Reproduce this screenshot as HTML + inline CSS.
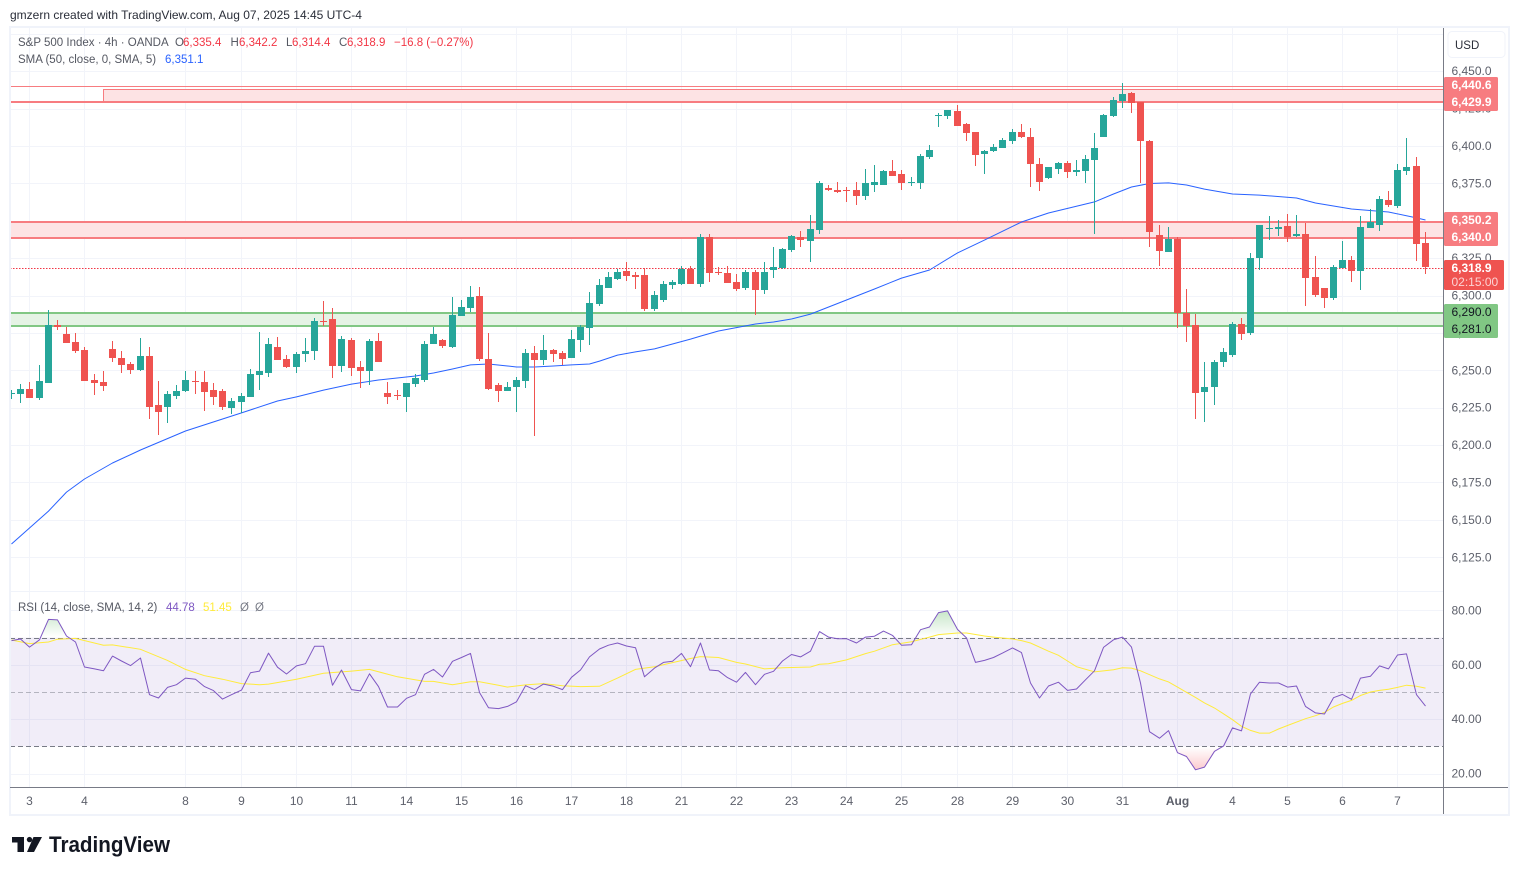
<!DOCTYPE html>
<html lang="en">
<head>
<meta charset="utf-8">
<title>S&amp;P 500 Index 4h chart</title>
<style>
html,body{margin:0;padding:0;background:#fff;width:1519px;height:875px;overflow:hidden}
svg{display:block;font-family:"Liberation Sans",Arial,sans-serif}
text{white-space:pre}
</style>
</head>
<body>
<svg id="chart" xmlns="http://www.w3.org/2000/svg" width="1519" height="875" viewBox="0 0 1519 875">
  <defs>
    <clipPath id="plot-clip"><rect x="11" y="28" width="1432" height="563"/></clipPath>
    <clipPath id="rsi-clip"><rect x="11" y="592" width="1432" height="195"/></clipPath>
    <clipPath id="ob-clip"><rect x="11" y="592" width="1432" height="45.4"/></clipPath>
    <clipPath id="os-clip"><rect x="11" y="746.8" width="1432" height="40"/></clipPath>
    <linearGradient id="ob-grad" gradientUnits="userSpaceOnUse" x1="0" y1="610" x2="0" y2="637">
      <stop offset="0" stop-color="#4caf50" stop-opacity="0.32"/>
      <stop offset="1" stop-color="#4caf50" stop-opacity="0"/>
    </linearGradient>
    <linearGradient id="os-grad" gradientUnits="userSpaceOnUse" x1="0" y1="773" x2="0" y2="747">
      <stop offset="0" stop-color="#f23645" stop-opacity="0.3"/>
      <stop offset="1" stop-color="#f23645" stop-opacity="0"/>
    </linearGradient>
  </defs>

  <text x="10" y="19" font-size="12" fill="#2a2e39">gmzern created with TradingView.com, Aug 07, 2025 14:45 UTC-4</text>

  <g id="grid-layer"></g>
  <g id="zone-layer"></g>
  <g id="sma-layer" clip-path="url(#plot-clip)"></g>
  <g id="candle-layer" clip-path="url(#plot-clip)" shape-rendering="crispEdges"></g>
  <g id="rsi-layer"></g>

  <g fill="none">
    <rect x="10" y="27" width="1499" height="788" stroke="#f0f3fa" stroke-width="2"/>
    <line x1="10" x2="1443" y1="591.5" y2="591.5" stroke="#f0f3fa" stroke-width="1"/>
    <line x1="1443.5" x2="1443.5" y1="28" y2="814" stroke="#787b86" stroke-width="1"/>
    <line x1="10" x2="1508" y1="787.5" y2="787.5" stroke="#787b86" stroke-width="1"/>
  </g>

  <g id="axis-layer" font-size="12" fill="#5d606b"></g>

  <g font-size="11.5">
    <text x="18" y="46" fill="#555862">S&amp;P 500 Index · 4h · OANDA</text>
    <text x="175" y="46" fill="#555862">O</text>
    <text x="183" y="46" fill="#f23645">6,335.4</text>
    <text x="230.5" y="46" fill="#555862">H</text>
    <text x="239" y="46" fill="#f23645">6,342.2</text>
    <text x="286" y="46" fill="#555862">L</text>
    <text x="292" y="46" fill="#f23645">6,314.4</text>
    <text x="339" y="46" fill="#555862">C</text>
    <text x="347" y="46" fill="#f23645">6,318.9</text>
    <text x="394" y="46" fill="#f23645">−16.8 (−0.27%)</text>
    <text x="18" y="63" fill="#555862">SMA (50, close, 0, SMA, 5)</text>
    <text x="165" y="63" fill="#2962ff">6,351.1</text>
    <text x="18" y="611" fill="#555862">RSI (14, close, SMA, 14, 2)</text>
    <text x="166" y="611" fill="#7e57c2">44.78</text>
    <text x="203" y="611" fill="#ffeb3b">51.45</text>
    <text x="240" y="611" fill="#787b86">Ø</text>
    <text x="255" y="611" fill="#787b86">Ø</text>
  </g>

  <g>
    <rect x="1448" y="31.5" width="57" height="26" rx="4" fill="#fff" stroke="#f0f3fa" stroke-width="1"/>
    <text x="1455" y="49" font-size="11.5" fill="#2a2e39">USD</text>
  </g>

  <g>
    <path d="M12 837H24V852H17.5V842.5H12Z" fill="#131722"/>
    <circle cx="29.5" cy="839.6" r="2.7" fill="#131722"/>
    <path d="M33.5 837H42L34 852H27Z" fill="#131722"/>
    <text x="49" y="852" font-size="22" font-weight="700" fill="#131722" textLength="121" lengthAdjust="spacingAndGlyphs">TradingView</text>
  </g>
</svg>

<script>
const opens = [
6234.0,6234.2,6237.5,6231.5,6241.5,6280.3,6274.3,6268.9,6263.6,6243.5,
6242.2,6264.3,6258.3,6254.2,6250.2,6259.6,6226.8,6225.5,6232.8,6236.2,
6242.9,6242.2,6236.8,6236.2,6224.8,6228.8,6232.2,6246.9,6248.2,6265.6,
6257.6,6252.2,6260.9,6262.9,6283.0,6284.3,6252.9,6270.3,6252.2,6249.5,
6269.6,6234.8,6233.7,6232.2,6240.8,6243.5,6267.6,6270.3,6265.6,6286.3,
6291.7,6299.7,6257.6,6240.2,6236.2,6238.8,6242.9,6261.6,6256.9,6263.6,
6261.6,6258.3,6270.3,6278.3,6294.3,6305.0,6311.0,6316.4,6313.7,6313.7,
6291.0,6297.0,6307.0,6307.7,6317.8,6307.7,6339.2,6315.7,6315.1,6309.0,
6305.0,6315.7,6303.7,6317.1,6318.4,6330.5,6339.2,6336.5,6343.8,6371.9,
6370.6,6370.6,6370.6,6366.6,6373.9,6373.9,6383.3,6381.3,6375.3,6375.3,
6392.6,6420.1,6420.1,6423.4,6414.7,6409.4,6394.7,6396.7,6398.7,6403.3,
6409.4,6406.0,6388.0,6378.6,6384.6,6388.6,6382.6,6383.3,6390.7,6406.0,
6420.1,6430.1,6435.4,6429.4,6403.3,6340.5,6329.1,6337.8,6288.3,6280.3,
6235.5,6238.8,6255.6,6260.2,6281.0,6274.9,6325.1,6344.5,6344.5,6346.5,
6339.8,6341.2,6312.4,6305.0,6298.3,6318.4,6323.8,6316.4,6345.2,6347.2,
6363.9,6359.9,6383.3,6386.6,6335.4];
const highs = [
6236.8,6240.8,6242.2,6253.6,6290.3,6283.7,6279.0,6274.9,6265.6,6247.5,
6249.5,6269.6,6262.9,6255.6,6271.6,6265.6,6242.9,6236.2,6240.2,6249.5,
6249.5,6249.5,6241.5,6237.5,6231.5,6234.8,6250.9,6275.6,6271.6,6272.3,
6260.2,6262.3,6271.6,6285.0,6296.4,6291.7,6272.9,6271.6,6256.2,6270.9,
6274.9,6242.2,6236.8,6241.5,6247.5,6269.6,6279.0,6270.9,6299.0,6297.0,
6306.4,6305.7,6274.9,6241.5,6242.2,6245.5,6264.3,6266.3,6273.6,6264.3,
6262.9,6277.0,6280.3,6302.4,6311.0,6315.7,6317.7,6322.4,6315.7,6318.4,
6303.0,6309.7,6310.4,6319.8,6319.8,6341.2,6341.2,6319.1,6319.8,6314.4,
6317.1,6317.1,6322.4,6332.5,6331.8,6340.5,6343.2,6353.9,6376.6,6373.9,
6375.9,6372.6,6375.9,6384.6,6387.3,6384.0,6390.7,6384.0,6379.3,6394.7,
6400.7,6422.1,6424.1,6427.4,6415.4,6409.4,6397.3,6401.3,6405.4,6411.4,
6414.7,6412.0,6392.0,6386.0,6389.3,6390.0,6390.7,6394.0,6408.7,6421.4,
6432.8,6442.1,6436.1,6429.4,6404.0,6347.2,6345.8,6339.2,6304.4,6287.6,
6255.6,6256.9,6264.9,6282.3,6285.0,6328.5,6347.2,6353.2,6350.5,6354.5,
6353.9,6348.5,6326.5,6305.0,6320.4,6336.5,6326.5,6353.2,6357.9,6366.6,
6369.9,6387.9,6405.4,6392.6,6342.2];
const lows = [
6230.8,6228.4,6231.5,6230.2,6241.5,6277.0,6268.3,6261.6,6242.9,6233.5,
6236.2,6255.6,6248.2,6247.5,6249.5,6217.5,6206.8,6214.8,6230.8,6235.5,
6234.2,6222.8,6226.8,6223.5,6220.8,6221.5,6232.2,6236.8,6245.5,6256.9,
6251.6,6248.2,6255.6,6256.9,6279.6,6244.9,6248.9,6246.2,6238.2,6240.2,
6255.6,6227.5,6230.2,6222.1,6238.8,6242.2,6267.6,6264.9,6264.9,6286.3,
6289.0,6256.2,6236.8,6228.8,6236.2,6222.1,6238.2,6206.1,6253.6,6255.6,
6253.6,6258.3,6262.3,6266.9,6293.0,6305.0,6310.4,6309.7,6304.4,6289.7,
6289.7,6295.7,6304.4,6307.0,6307.7,6305.7,6309.0,6313.7,6308.4,6303.0,
6303.7,6287.0,6301.0,6311.7,6317.8,6329.1,6332.5,6322.4,6341.2,6369.9,
6368.6,6362.6,6360.6,6363.9,6369.2,6373.9,6380.0,6370.6,6373.3,6371.2,
6391.3,6412.7,6418.1,6413.4,6403.3,6386.6,6381.3,6396.0,6398.7,6401.3,
6405.4,6372.6,6369.9,6377.9,6381.3,6378.6,6380.0,6375.3,6341.2,6406.0,
6419.4,6425.4,6422.1,6375.3,6332.5,6319.8,6329.1,6278.3,6268.9,6217.5,
6215.5,6226.8,6252.2,6258.9,6270.3,6273.6,6317.1,6337.1,6339.8,6335.8,
6339.2,6293.0,6299.0,6291.7,6297.0,6318.4,6309.0,6303.7,6345.2,6343.2,
6359.2,6358.5,6380.6,6323.0,6314.4];
const closes = [
6234.6,6237.5,6231.5,6242.9,6280.3,6279.0,6268.3,6262.9,6242.9,6241.5,
6239.5,6258.3,6253.6,6250.2,6259.6,6225.5,6222.1,6234.2,6236.2,6243.5,
6242.2,6235.5,6232.2,6225.5,6229.5,6232.8,6247.5,6249.5,6267.6,6256.9,
6252.2,6260.9,6262.9,6283.0,6282.3,6252.9,6270.9,6251.6,6249.5,6269.6,
6255.6,6232.2,6233.0,6241.5,6244.9,6267.6,6274.3,6266.3,6287.0,6292.3,
6299.0,6257.6,6237.5,6236.2,6238.8,6243.5,6261.6,6256.9,6263.6,6260.9,
6257.6,6270.9,6279.0,6295.0,6307.0,6312.4,6315.7,6313.1,6312.4,6291.0,
6300.4,6307.7,6309.0,6317.8,6307.7,6339.2,6315.1,6315.1,6308.4,6304.4,
6315.7,6303.7,6315.7,6319.1,6331.1,6339.8,6337.1,6344.5,6375.3,6370.6,
6369.2,6369.9,6366.6,6375.3,6375.9,6383.3,6380.0,6375.3,6375.9,6393.3,
6397.3,6420.7,6424.1,6413.4,6408.7,6394.0,6396.7,6399.3,6404.0,6409.4,
6406.0,6388.0,6375.9,6386.0,6388.6,6382.6,6384.0,6391.3,6398.7,6420.7,
6430.8,6434.8,6428.8,6403.3,6342.5,6329.8,6337.8,6288.3,6279.6,6234.8,
6238.8,6255.6,6262.3,6281.0,6274.3,6325.1,6347.2,6345.2,6345.8,6339.2,
6341.2,6311.7,6300.4,6298.3,6319.1,6323.8,6316.4,6345.8,6349.2,6364.6,
6360.6,6384.0,6386.0,6334.5,6318.9];

const smaBars = [0,4,6,8,11,14,19,25,29,31,34,37,40,44,46,48,50,52,54,55,57,59,61,63,64,66,68,70,72,74,75,77,81,83,85,87,91,94,97,100,103,106,110,113,118,120,122,124,126,128,130,133,136,140,142,146,150,153,154];
const smaValues = [6133.9,6155.9,6168.6,6177.3,6188.0,6196.7,6209.4,6221.5,6229.5,6232.2,6236.8,6240.8,6243.5,6246.2,6248.2,6250.9,6253.6,6254.2,6252.9,6252.2,6252.2,6252.9,6253.6,6254.2,6256.2,6260.2,6262.3,6264.3,6267.6,6270.9,6272.9,6276.3,6281.0,6282.3,6284.3,6287.6,6297.0,6304.4,6311.7,6317.1,6328.5,6337.1,6349.2,6355.2,6362.6,6367.9,6372.6,6374.9,6375.3,6373.9,6371.2,6367.9,6367.2,6365.2,6361.9,6357.9,6355.9,6351.9,6350.5];

const rsiValues = [
68.9,69.5,66.5,69.2,76.7,76.5,70.6,68.4,59.2,58.5,
57.8,63.2,61.4,59.7,62.5,49.0,47.8,51.7,52.7,55.1,
54.7,52.0,50.5,47.4,49.0,50.7,57.1,57.7,64.3,59.1,
56.6,59.6,60.4,66.8,66.8,52.5,58.1,50.9,50.4,56.7,
52.0,44.5,44.5,47.7,49.0,56.5,58.3,55.5,61.3,62.7,
64.2,49.8,44.2,43.9,44.7,46.4,52.3,50.9,52.9,52.1,
50.9,55.4,58.1,62.9,65.8,67.2,68.0,66.9,66.3,55.6,
58.8,60.9,61.3,64.2,59.3,68.0,58.1,57.8,55.3,53.6,
57.2,52.7,56.5,57.6,61.4,63.8,62.9,65.0,72.2,70.2,
69.6,69.6,68.0,70.2,70.5,72.4,70.8,67.2,67.4,72.9,
73.9,79.2,79.8,73.0,69.9,60.9,61.6,62.7,64.3,66.2,
64.5,53.3,47.8,52.2,53.6,50.6,51.1,54.5,57.8,66.4,
69.2,70.2,66.5,53.3,35.4,33.0,35.8,27.7,26.3,21.4,
22.4,28.2,30.1,36.8,35.7,49.3,53.6,53.3,53.3,51.8,
52.2,44.7,42.3,41.9,47.9,49.1,47.3,55.1,55.8,59.6,
58.5,63.6,64.0,49.0,44.8];

const signalBars = [0,2,4,5,7,10,11,14,17,19,21,23,25,27,28,31,34,37,39,42,45,46,48,50,51,53,54,56,58,60,62,64,66,68,70,72,74,75,77,79,80,82,84,87,88,89,91,93,94,96,98,100,101,103,104,106,107,109,110,111,113,114,115,116,118,120,121,122,123,125,126,127,128,129,130,131,132,133,134,135,136,137,138,139,141,142,143,144,145,146,147,148,149,150,151,152,153,154];
const signalValues = [69.1,67.8,68.4,69.4,69.7,67.2,67.3,65.7,61.6,58.3,56.0,54.7,53.1,52.7,52.9,54.7,56.9,57.7,58.3,55.6,53.9,53.9,52.7,53.8,53.8,52.5,51.8,52.6,53.1,52.3,52.0,52.1,55.1,58.3,59.3,60.8,62.3,63.0,62.7,60.9,60.3,58.5,58.9,59.2,60.2,60.4,61.8,64.1,65.0,67.4,68.5,70.2,71.1,71.7,71.7,70.6,70.2,69.5,68.9,68.0,65.0,63.5,61.4,59.3,57.4,58.2,58.9,58.8,57.8,54.8,53.7,51.8,49.9,48.0,46.0,44.1,42.0,39.8,37.4,35.9,34.9,34.9,36.4,37.7,40.2,41.3,42.5,44.5,45.8,46.9,48.7,50.0,50.6,51.0,51.7,52.5,52.1,51.45];

const priceTicks = [6450,6425,6400,6375,6350,6325,6300,6275,6250,6225,6200,6175,6150,6125];
const priceGridExtra = [6475];
const rsiTicks = [80,60,40,20];
const rsiLevels = [70,50,30];
const dateLabels = ["3","4","8","9","10","11","14","15","16","17","18","21","22","23","24","25","28","29","30","31","Aug","4","5","6","7"];
const dateBars = [2,8,19,25,31,37,43,49,55,61,67,73,79,85,91,97,103,109,115,121,127,133,139,145,151];

const zoneNames = ["resistance-zone-upper","resistance-zone-lower","support-zone"];
const zoneTops = [6438.3,6349.4,6288.3];
const zoneBottoms = [6429.4,6338.5,6279.6];
const zoneColors = ["#f77c80","#f77c80","#81c784"];
const zoneFills = ["#fde3e4","#fde3e4","#e5f3e5"];
const upperLinePrice = [6439.6];
const lastPrice = [6318.9];

const zoneLabelTexts = ["6,440.6","6,429.9","6,350.2","6,340.0","6,290.0","6,281.0"];

const SVGNS = "http://www.w3.org/2000/svg";
const LEFT = 10, RIGHT = 1443;
function xBar(i){ return Math.floor(11.5 + 9.18 * i) + 0.5; }
function yPrice(p){ return 146 + (6400 - p) * 1.4955; }
function yRsi(r){ return 692 - (r - 50) * 2.72; }
function fmtPrice(p){ return p.toLocaleString("en-US",{minimumFractionDigits:1,maximumFractionDigits:1}); }
function el(tag, attrs, parent){
  const n = document.createElementNS(SVGNS, tag);
  for (const k in attrs) n.setAttribute(k, attrs[k]);
  parent.appendChild(n);
  return n;
}
const gridLayer = document.getElementById("grid-layer");
const zoneLayer = document.getElementById("zone-layer");
const smaLayer = document.getElementById("sma-layer");
const candleLayer = document.getElementById("candle-layer");
const rsiLayer = document.getElementById("rsi-layer");
const axisLayer = document.getElementById("axis-layer");
const GRID = "#f2f4fa";

/* vertical + horizontal grid */
dateBars.forEach(function(b){
  const v = el("line",{x1:xBar(b),x2:xBar(b),y1:28,y2:787,stroke:GRID,"stroke-width":1},gridLayer);
  
  
});
priceTicks.concat(priceGridExtra).forEach(function(p){
  const y = Math.round(yPrice(p)) + 0.5;
  const h = el("line",{x1:LEFT,x2:RIGHT,y1:y,y2:y,stroke:GRID,"stroke-width":1},gridLayer);
  
  
});
rsiTicks.forEach(function(r){
  const y = Math.round(yRsi(r)) + 0.5;
  const h = el("line",{x1:LEFT,x2:RIGHT,y1:y,y2:y,stroke:GRID,"stroke-width":1},gridLayer);
  
  
});

/* zones */
zoneNames.forEach(function(name,i){
  const t = i === 0 ? Math.round(yPrice(zoneTops[i])) + 0.5 : Math.round(yPrice(zoneTops[i]));
  const b = Math.round(yPrice(zoneBottoms[i]));
  const sx = i === 0 ? 103 : LEFT;
  const fill = el("rect",{x:sx,y:t,width:RIGHT-sx,height:b-t,fill:zoneFills[i]},zoneLayer);
  
  
  const top = el("line",{x1:sx,x2:RIGHT,y1:t,y2:t,stroke:zoneColors[i],"stroke-width":i===0?1:2},zoneLayer);
  
  
  const bot = el("line",{x1:LEFT,x2:RIGHT,y1:b,y2:b,stroke:zoneColors[i],"stroke-width":2},zoneLayer);
  
  
  if (i === 0) {
    const side = el("line",{x1:sx+0.5,x2:sx+0.5,y1:t,y2:b,stroke:zoneColors[i],"stroke-width":1},zoneLayer);
    
    
  }
});
const topLineY = Math.round(yPrice(upperLinePrice[0])) - 0.5;
const topLine = el("line",{x1:LEFT,x2:RIGHT,y1:topLineY,y2:topLineY,stroke:"#f77c80","stroke-width":1},zoneLayer);



/* last price line */
const lastY = Math.round(yPrice(lastPrice[0])) + 1.5;
const lastLine = el("line",{x1:LEFT,x2:RIGHT,y1:lastY,y2:lastY,stroke:"#f23645","stroke-width":1,"stroke-dasharray":"1.5 1.5",
  "shape-rendering":"crispEdges"},zoneLayer);



/* SMA */
const smaPts = smaBars.map(function(b,i){ return xBar(b) + "," + yPrice(smaValues[i]).toFixed(1); }).join(" ");
const smaLine = el("polyline",{points:smaPts,fill:"none",stroke:"#2962ff","stroke-width":1,"stroke-linejoin":"round"},smaLayer);



/* candles */
opens.forEach(function(o,i){
  const c = closes[i], color = c >= o ? "#26a69a" : "#ef5350", x = xBar(i);
  const wt = Math.round(yPrice(highs[i])), wb = Math.round(yPrice(lows[i]));
  let bt = Math.round(yPrice(Math.max(o,c))), bb = Math.round(yPrice(Math.min(o,c)));
  if (bb - bt < 1) bb = bt + 1;
  const wick = el("rect",{x:x-0.5,y:wt,width:1,height:Math.max(wb-wt,1),fill:color},candleLayer);
  
  
  const body = el("rect",{x:x-3.5,y:bt,width:7,height:bb-bt,fill:color},candleLayer);
  
  
});

/* RSI pane */
const y70 = yRsi(rsiLevels[0]), y30 = yRsi(rsiLevels[2]);
const band = el("rect",{x:LEFT,y:y70,width:RIGHT-LEFT,height:y30-y70,fill:"#7e57c2","fill-opacity":0.11},rsiLayer);


rsiLevels.forEach(function(l,i){
  const y = Math.round(yRsi(l)) + 0.5;
  const ln = el("line",{x1:LEFT,x2:RIGHT,y1:y,y2:y,stroke:"#787b86","stroke-opacity":i===1?0.5:1,"stroke-width":1,"stroke-dasharray":"5 3"},rsiLayer);
  
  
});
const rsiPoints = rsiValues.map(function(r,i){ return xBar(i) + "," + yRsi(r).toFixed(1); });
const obArea = el("polygon",{points:xBar(0)+","+y70+" "+rsiPoints.join(" ")+" "+xBar(rsiValues.length-1)+","+y70,fill:"url(#ob-grad)","clip-path":"url(#ob-clip)"},rsiLayer);


const osArea = el("polygon",{points:xBar(0)+","+y30+" "+rsiPoints.join(" ")+" "+xBar(rsiValues.length-1)+","+y30,fill:"url(#os-grad)","clip-path":"url(#os-clip)"},rsiLayer);


const sigPts = signalBars.map(function(b,i){ return xBar(b) + "," + yRsi(signalValues[i]).toFixed(1); }).join(" ");
const sigLine = el("polyline",{points:sigPts,fill:"none",stroke:"#ffeb3b","stroke-width":1,"clip-path":"url(#rsi-clip)"},rsiLayer);


const rsiLine = el("polyline",{points:rsiPoints.join(" "),fill:"none",stroke:"#7e57c2","stroke-width":1,"stroke-linejoin":"round","clip-path":"url(#rsi-clip)"},rsiLayer);



/* axis labels */
priceTicks.forEach(function(p){
  const t = el("text",{x:1451.5,y:yPrice(p)+4},axisLayer);
  t.textContent = fmtPrice(p);
  
  
});
rsiTicks.forEach(function(r){
  const t = el("text",{x:1451.5,y:yRsi(r)+4},axisLayer);
  t.textContent = r.toFixed(2);
  
  
});
dateLabels.forEach(function(d,i){
  const attrs = {x:xBar(dateBars[i]),y:805,"text-anchor":"middle"};
  if (d === "Aug") attrs["font-weight"] = "700";
  const t = el("text",attrs,axisLayer);
  t.textContent = d;
  
  
});

/* price-scale badges */
function badge(name, y, h, w, color){
  const r = el("rect",{x:1444,y:y,width:w,height:h,rx:1.5,fill:color},axisLayer);
  
  
}
function badgeText(name, txt, y, color, weight){
  const t = el("text",{x:1451.5,y:y,fill:color,"font-weight":weight||"400"},axisLayer);
  t.textContent = txt;
  
  
}
badge("upper-resistance-badge", 77, 34, 54, "#f77c80");
badge("lower-resistance-badge", 212, 34, 54, "#f77c80");
badge("support-badge", 304, 34, 54, "#81c784");
badge("last-price-badge", 260, 30, 60, "#ef5350");
zoneLabelTexts.forEach(function(txt,i){
  const yy = [89,106,224,241,316,333][i];
  badgeText("zone-price-label", txt, yy, i >= 4 ? "#131722" : "#ffffff", i >= 4 ? "400" : "700");
});
badgeText("last-price-label", fmtPrice(lastPrice[0]), 272, "#ffffff", "700");
badgeText("bar-countdown-label", "02:15:00", 286, "#fcd3d3", "400");
</script>
</body>
</html>
